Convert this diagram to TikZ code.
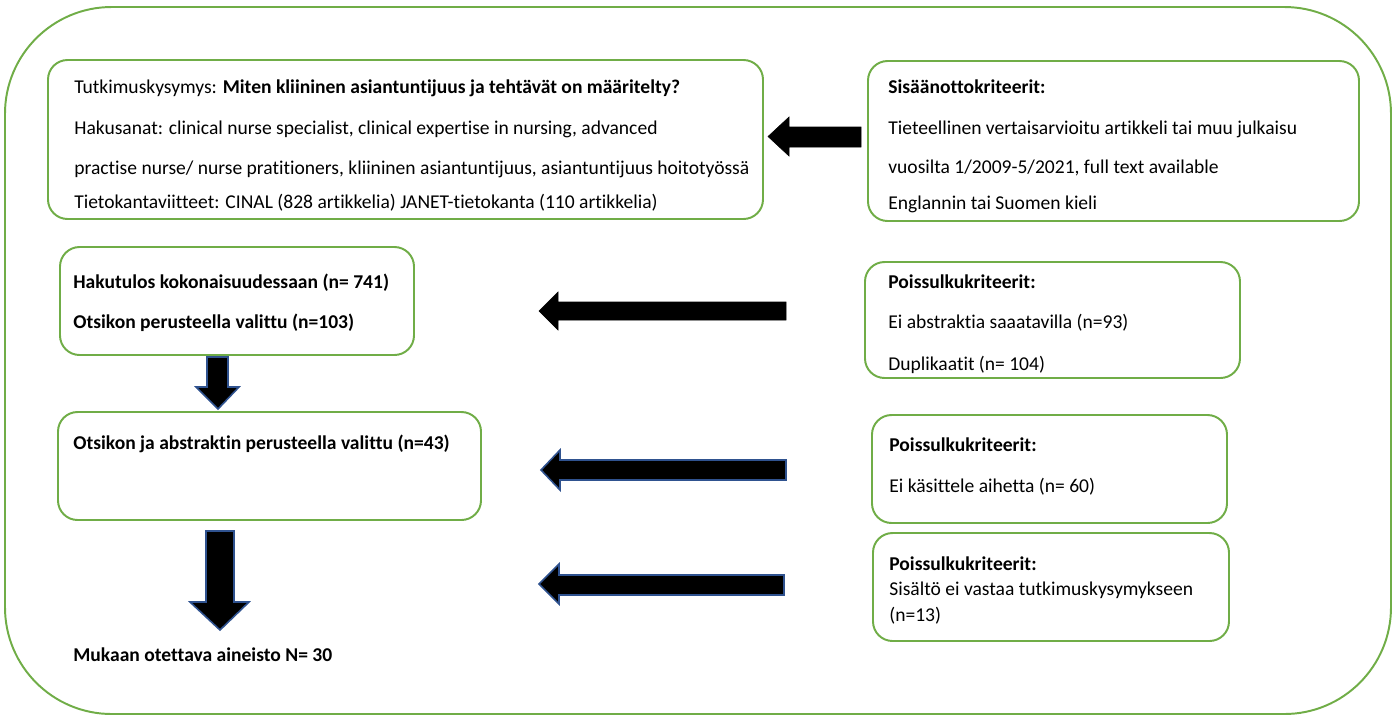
\documentclass[tikz,border=0pt]{standalone}
\usepackage{fontspec}
\setmainfont{Carlito}[RawFeature={-liga;-clig;-dlig;-calt}]
\usetikzlibrary{positioning,fit}

\definecolor{boxgreen}{HTML}{70AD47}
\definecolor{arrowblue}{HTML}{2F528F}

\tikzset{
  greenbox/.style={draw=boxgreen, line width=1.1pt, rounded corners=11pt, inner sep=0pt},
  txt/.style={anchor=west, inner sep=0pt, text height=8pt, text depth=2pt},
  blockarr/.style={fill=black, draw=black, line width=0.3pt},
  bluearr/.style={fill=black, draw=arrowblue, line width=0.9pt, line join=miter}
}

\begin{document}
\begin{tikzpicture}[x=0.5625pt, y=-0.5625pt, font=\fontsize{11pt}{13pt}\selectfont]

      \useasboundingbox (0,0) rectangle (1397,716);

      % frames
      \node[greenbox, rounded corners=60pt, fit={(5,7) (1391,714)}] (frame) {};

      \begin{scope}[every node/.style={greenbox}]
        \node[fit={(48,60) (763,219)}]   (q)     {};
        \node[fit={(868,61) (1359,221)}] (incl)  {};
        \node[fit={(60,247) (414,355)}]  (hits)  {};
        \node[fit={(58,412) (481,520)}]  (abst)  {};
        \node[fit={(865,262) (1240,378)}] (excl1) {};
        \node[fit={(872,415) (1227,523)}] (excl2) {};
        \node[fit={(873,533) (1229,641)}] (excl3) {};
      \end{scope}

      \begin{scope}[every node/.style={txt}]
        \node (q1) at (74,88)  {Tutkimuskysymys: \textbf{Miten kliininen asiantuntijuus ja tehtävät on määritelty?}};
        \node (q2) at (74,129) {Hakusanat: clinical nurse specialist, clinical expertise in nursing, advanced};
        \node (q3) at (74,169) {practise nurse/ nurse pratitioners, kliininen asiantuntijuus, asiantuntijuus hoitotyössä};
        \node (q4) at (74,203) {Tietokantaviitteet: CINAL (828 artikkelia) JANET-tietokanta (110 artikkelia)};

        \node (i1) at (888,88)  {\textbf{Sisäänottokriteerit:}};
        \node (i2) at (888,129) {Tieteellinen vertaisarvioitu artikkeli tai muu julkaisu};
        \node (i3) at (888,168) {vuosilta 1/2009-5/2021, full text available};
        \node (i4) at (888,204) {Englannin tai Suomen kieli};

        \node (h1) at (73,283) {\textbf{Hakutulos kokonaisuudessaan (n= 741)}};
        \node (h2) at (73,323) {\textbf{Otsikon perusteella valittu (n=103)}};

        \node (a1) at (73,444) {\textbf{Otsikon ja abstraktin perusteella valittu (n=43)}};

        \node (e11) at (888,283) {\textbf{Poissulkukriteerit:}};
        \node (e12) at (888,323) {Ei abstraktia saaatavilla (n=93)};
        \node (e13) at (888,365) {Duplikaatit (n= 104)};

        \node (e21) at (889,446) {\textbf{Poissulkukriteerit:}};
        \node (e22) at (889,487) {Ei käsittele aihetta (n= 60)};

        \node (e31) at (889,565) {\textbf{Poissulkukriteerit:}};
        \node (e32) at (889,590) {Sisältö ei vastaa tutkimuskysymykseen};
        \node (e33) at (889,616) {(n=13)};

        \node (final) at (73,656) {\textbf{Mukaan otettava aineisto N= 30}};
      \end{scope}

      % block arrows
      \filldraw[blockarr] (861,127) -- (789,127) -- (789,117) -- (768,136.5)
        -- (789,156) -- (789,147) -- (861,147) -- cycle;
      \filldraw[blockarr] (786,302) -- (558,302) -- (558,292) -- (539,311)
        -- (558,330) -- (558,320) -- (786,320) -- cycle;
      \filldraw[bluearr] (786,460) -- (560,460) -- (560,450) -- (541,470)
        -- (560,490) -- (560,480) -- (786,480) -- cycle;
      \filldraw[bluearr] (784,575) -- (559,575) -- (559,564) -- (539,584)
        -- (559,604) -- (559,595) -- (784,595) -- cycle;
      \filldraw[bluearr] (207,357) -- (207,387) -- (196,387) -- (218,409)
        -- (239,387) -- (228,387) -- (228,357) -- cycle;
      \filldraw[bluearr] (206,531) -- (206,602) -- (190,602) -- (220,630)
        -- (249,602) -- (234,602) -- (234,531) -- cycle;

    \end{tikzpicture}
\end{document}
